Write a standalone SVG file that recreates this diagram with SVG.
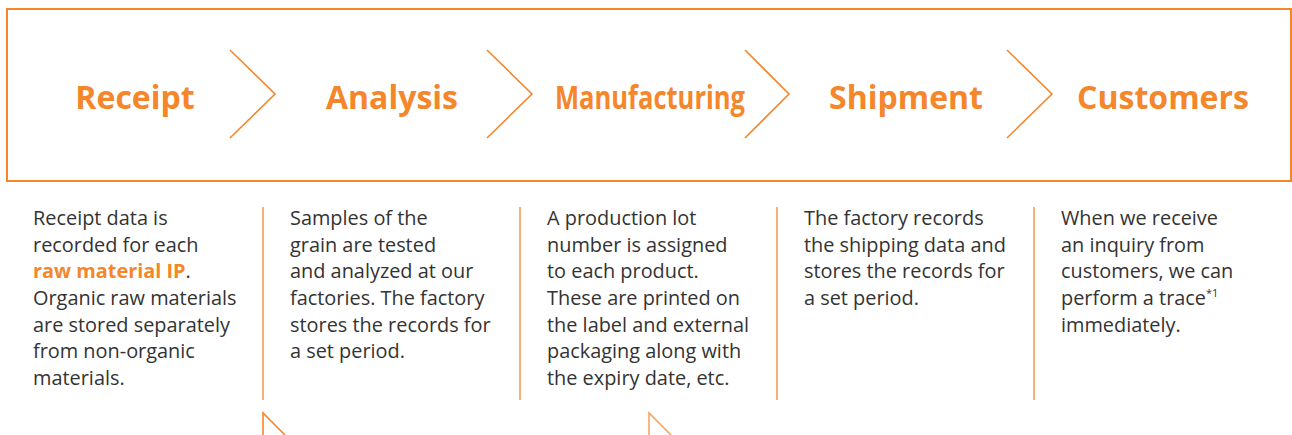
<svg xmlns="http://www.w3.org/2000/svg" width="1292" height="435" viewBox="0 0 1292 435">
<style>
.frame{fill:none;stroke:#F5862A;stroke-width:2}
.chev{fill:none;stroke:#F5862A;stroke-width:1.6}
.div{stroke:#F5862A;stroke-width:1.3}
.h{font-family:"Open Sans","Noto Sans",sans-serif;font-weight:700;font-size:32px;fill:#F5862A;text-anchor:middle}
.b{font-family:"Open Sans","Noto Sans",sans-serif;font-size:19.9px;fill:#333333}
.em{font-weight:700;fill:#F5862A}
</style>
<rect width="1292" height="435" fill="#ffffff"/>
<rect class="frame" x="7" y="9" width="1284" height="172"/>
<g id="connectors">
<polyline class="chev" points="230,50 275,94 230,138"/>
<polyline class="chev" points="487,50 532,94 487,138"/>
<polyline class="chev" points="745,50 789,94 745,138"/>
<polyline class="chev" points="1007,50 1052,94 1007,138"/>
<line class="div" x1="263" y1="207" x2="263" y2="400"/>
<line class="div" x1="520" y1="207" x2="520" y2="400"/>
<line class="div" x1="777" y1="207" x2="777" y2="400"/>
<line class="div" x1="1034" y1="207" x2="1034" y2="400"/>
<polyline class="chev" points="263,435 263,413 285,435"/>
<polyline class="chev" points="649,435 649,413 671,435" opacity="0.75"/>
</g>
<g id="receipt">
<text class="h" x="135" y="109">Receipt</text>
<text class="b" x="33" y="225">Receipt data is</text>
<text class="b" x="33" y="251.7">recorded for each</text>
<text class="b" x="33" y="278.3"><tspan class="em">raw material IP</tspan>.</text>
<text class="b" x="33" y="305">Organic raw materials</text>
<text class="b" x="33" y="331.7">are stored separately</text>
<text class="b" x="33" y="358.3">from non-organic</text>
<text class="b" x="33" y="385">materials.</text>
</g>
<g id="analysis">
<text class="h" x="392" y="109">Analysis</text>
<text class="b" x="290" y="225">Samples of the</text>
<text class="b" x="290" y="251.7">grain are tested</text>
<text class="b" x="290" y="278.3">and analyzed at our</text>
<text class="b" x="290" y="305">factories. The factory</text>
<text class="b" x="290" y="331.7">stores the records for</text>
<text class="b" x="290" y="358.3">a set period.</text>
</g>
<g id="manufacturing">
<text class="h" x="650" y="109" textLength="190" lengthAdjust="spacingAndGlyphs">Manufacturing</text>
<text class="b" x="547" y="225">A production lot</text>
<text class="b" x="547" y="251.7">number is assigned</text>
<text class="b" x="547" y="278.3">to each product.</text>
<text class="b" x="547" y="305">These are printed on</text>
<text class="b" x="547" y="331.7">the label and external</text>
<text class="b" x="547" y="358.3">packaging along with</text>
<text class="b" x="547" y="385">the expiry date, etc.</text>
</g>
<g id="shipment">
<text class="h" x="906" y="109">Shipment</text>
<text class="b" x="804" y="225">The factory records</text>
<text class="b" x="804" y="251.7">the shipping data and</text>
<text class="b" x="804" y="278.3">stores the records for</text>
<text class="b" x="804" y="305">a set period.</text>
</g>
<g id="customers">
<text class="h" x="1163" y="109">Customers</text>
<text class="b" x="1061" y="225">When we receive</text>
<text class="b" x="1061" y="251.7">an inquiry from</text>
<text class="b" x="1061" y="278.3">customers, we can</text>
<text class="b" x="1061" y="305">perform a trace<tspan font-size="11" dy="-8">*1</tspan></text>
<text class="b" x="1061" y="331.7">immediately.</text>
</g>
</svg>
